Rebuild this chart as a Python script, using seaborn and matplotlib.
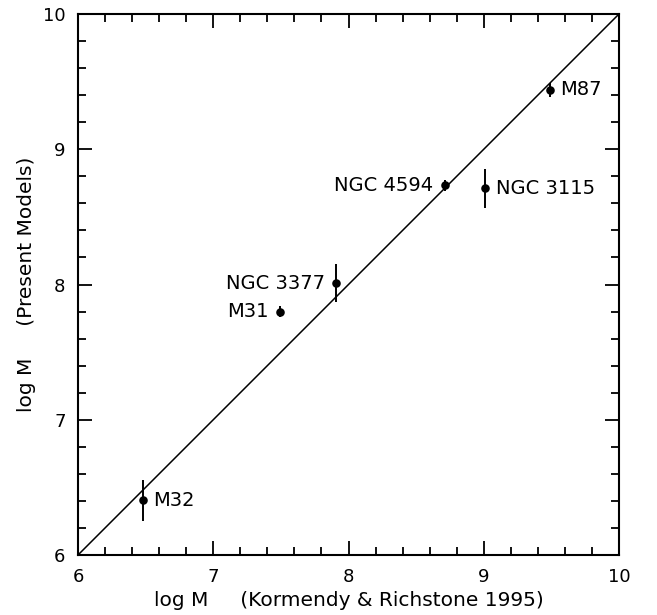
import matplotlib
matplotlib.use("Agg")
import matplotlib.pyplot as plt
import seaborn as sns
import pandas as pd
from matplotlib.ticker import MultipleLocator

galaxies = ["M32", "M31", "NGC 3377", "NGC 4594", "NGC 3115", "M87"]
log_m_kr = [6.48, 7.49, 7.91, 8.71, 9.01, 9.49]
log_m_models = [6.405, 7.80, 8.01, 8.735, 8.71, 9.44]
err_models = [0.15, 0.04, 0.14, 0.04, 0.145, 0.05]
label_side = ["right", "left", "left", "left", "right", "right"]

df = pd.DataFrame({"galaxy": galaxies, "x": log_m_kr, "y": log_m_models,
                   "err": err_models, "side": label_side})

sns.set_style("ticks")
plt.rcParams["font.family"] = ["DejaVu Sans"]
plt.rcParams["text.color"] = "black"
plt.rcParams["axes.labelcolor"] = "black"
plt.rcParams["xtick.color"] = "black"
plt.rcParams["ytick.color"] = "black"

fig = plt.figure(figsize=(6.57, 6.15), dpi=100)
ax = fig.add_axes([78/657, 60/615, 541/657, 541/615])

ax.plot([6, 10], [6, 10], color="black", lw=1.1)
ax.errorbar(df["x"], df["y"], yerr=df["err"], fmt="none", ecolor="black",
            elinewidth=1.4, capsize=0)
sns.scatterplot(data=df, x="x", y="y", ax=ax, color="black", s=38,
                edgecolor="black", linewidth=0, zorder=3)

for _, r in df.iterrows():
    if r["side"] == "right":
        ax.annotate(r["galaxy"], (r["x"], r["y"]), xytext=(7.5, 0),
                    textcoords="offset points", ha="left", va="center",
                    fontsize=14, color="black")
    else:
        ax.annotate(r["galaxy"], (r["x"], r["y"]), xytext=(-8, 0),
                    textcoords="offset points", ha="right", va="center",
                    fontsize=14, color="black")

ax.set_xlim(6, 10)
ax.set_ylim(6, 10)
ax.xaxis.set_major_locator(MultipleLocator(1))
ax.yaxis.set_major_locator(MultipleLocator(1))
ax.xaxis.set_minor_locator(MultipleLocator(0.2))
ax.yaxis.set_minor_locator(MultipleLocator(0.2))
ax.tick_params(which="both", direction="in", top=True, right=True,
               color="black", labelcolor="black", width=1.3)
ax.tick_params(which="major", length=10, labelsize=13, pad=9)
ax.tick_params(which="minor", length=5.5)
for s in ax.spines.values():
    s.set_linewidth(1.5)
    s.set_color("black")

ax.set_xlabel("log M     (Kormendy & Richstone 1995)", fontsize=14.5,
              labelpad=4, color="black")
ax.set_ylabel("log M     (Present Models)", fontsize=14.5, labelpad=5,
              color="black")

fig.savefig("out.png", dpi=100, facecolor="white")
